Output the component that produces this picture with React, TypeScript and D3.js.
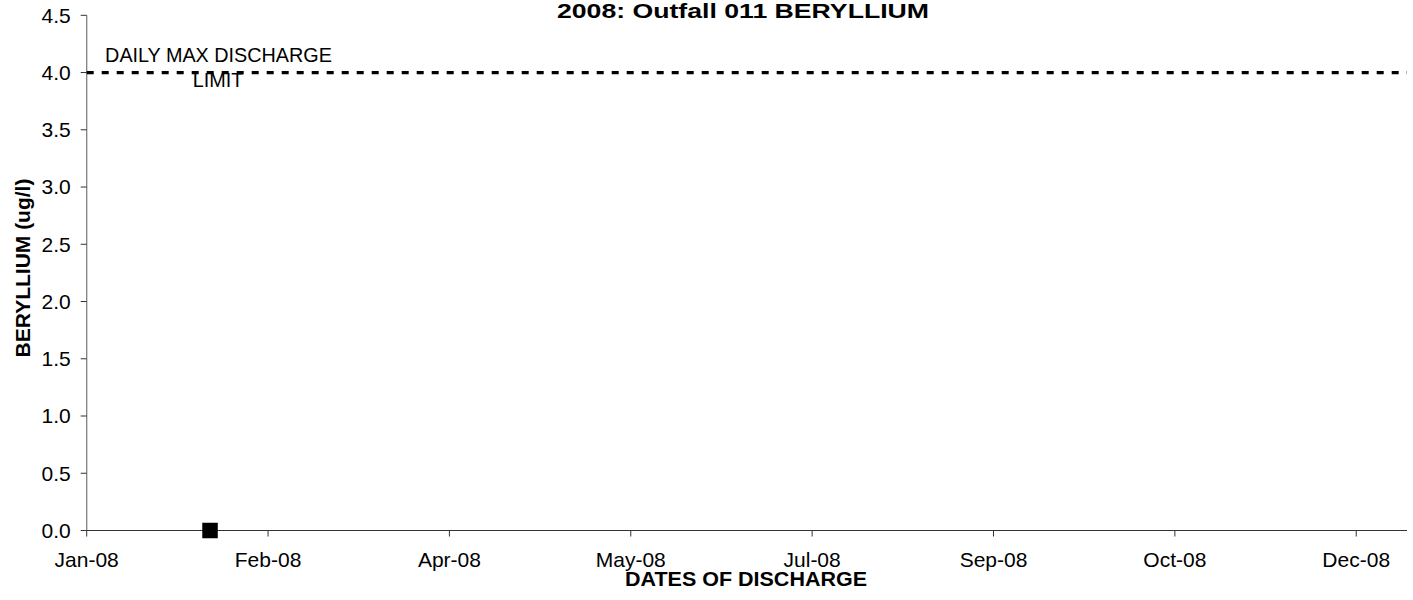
import React from "react";
import * as d3 from "d3";

const seriesDates: string[] = ["2008-02-04"];
const seriesValues: number[] = [0];

const limitValue = 4.0;
const limitLabelLines: string[] = ["DAILY MAX DISCHARGE", "LIMIT"];

const xDomain: string[] = ["2008-01-01", "2008-12-30"];
const xTickDates: string[] = [
  "2008-01-01",
  "2008-02-20",
  "2008-04-10",
  "2008-05-30",
  "2008-07-19",
  "2008-09-07",
  "2008-10-27",
  "2008-12-16",
];
const xTickLabels: string[] = ["Jan-08", "Feb-08", "Apr-08", "May-08", "Jul-08", "Sep-08", "Oct-08", "Dec-08"];

const yTicks: number[] = [0, 0.5, 1, 1.5, 2, 2.5, 3, 3.5, 4, 4.5];
const yTickLabels: string[] = ["0.0", "0.5", "1.0", "1.5", "2.0", "2.5", "3.0", "3.5", "4.0", "4.5"];

const title = "2008: Outfall 011 BERYLLIUM";
const xTitle = "DATES OF DISCHARGE";
const yTitle = "BERYLLIUM (ug/l)";

const W = 1413;
const H = 600;
const left = 86.7;
const right = 1407;
const top = 15.3;
const bottom = 530.5;
const FONT = "'Liberation Sans', Arial, Helvetica, sans-serif";

const parse = (s: string) => new Date(s + "T00:00:00Z");

export default function App() {
  const x = d3.scaleUtc().domain([parse(xDomain[0]), parse(xDomain[1])]).range([left, right]);
  const y = d3.scaleLinear().domain([0, 4.5]).range([bottom, top]);
  const sq = 15.5;

  return (
    <svg
      width={W}
      height={H}
      style={{ position: "absolute", left: 0, top: 0, background: "#fff" }}
      fontFamily={FONT}
    >
      <rect x={0} y={0} width={W} height={H} fill="#fff" />
      {/* title */}
      <text x={743} y={18.3} textAnchor="middle" fontWeight="bold" fontSize={21} textLength={372} lengthAdjust="spacingAndGlyphs">
        {title}
      </text>

      {/* y axis */}
      <line x1={left} x2={left} y1={top} y2={bottom} stroke="#808080" strokeWidth={1.3} />
      {yTicks.map((t, i) => (
        <g key={"y" + i}>
          <line x1={left - 6} x2={left} y1={y(t)} y2={y(t)} stroke="#333" strokeWidth={1} />
          <text x={70.7} y={y(t)} dy="0.35em" textAnchor="end" fontSize={21}>
            {yTickLabels[i]}
          </text>
        </g>
      ))}

      {/* x axis */}
      <line x1={left} x2={right} y1={bottom} y2={bottom} stroke="#333" strokeWidth={1.2} />
      {xTickDates.map((d, i) => (
        <g key={"x" + i}>
          <line x1={x(parse(d))} x2={x(parse(d))} y1={bottom} y2={bottom + 6} stroke="#333" strokeWidth={1} />
          <text x={x(parse(d))} y={567.3} textAnchor="middle" fontSize={21}>
            {xTickLabels[i]}
          </text>
        </g>
      ))}

      {/* limit line */}
      <line
        x1={left}
        x2={right}
        y1={y(limitValue)}
        y2={y(limitValue)}
        stroke="#000"
        strokeWidth={3.2}
        strokeDasharray="7,8"
      />
      <text x={218.5} y={61.7} textAnchor="middle" fontSize={19.8}>
        {limitLabelLines[0]}
      </text>
      <text x={218} y={86.7} textAnchor="middle" fontSize={19.8}>
        {limitLabelLines[1]}
      </text>

      {/* data points */}
      {seriesDates.map((d, i) => (
        <rect
          key={"p" + i}
          x={x(parse(d)) - sq / 2}
          y={y(seriesValues[i]) - sq / 2}
          width={sq}
          height={sq}
          fill="#000"
        />
      ))}

      {/* axis titles */}
      <text x={746} y={585.5} textAnchor="middle" fontWeight="bold" fontSize={20} textLength={242} lengthAdjust="spacingAndGlyphs">
        {xTitle}
      </text>
      <text
        transform={`translate(30,268) rotate(-90)`}
        textAnchor="middle"
        fontWeight="bold"
        fontSize={21}
      >
        {yTitle}
      </text>
    </svg>
  );
}
